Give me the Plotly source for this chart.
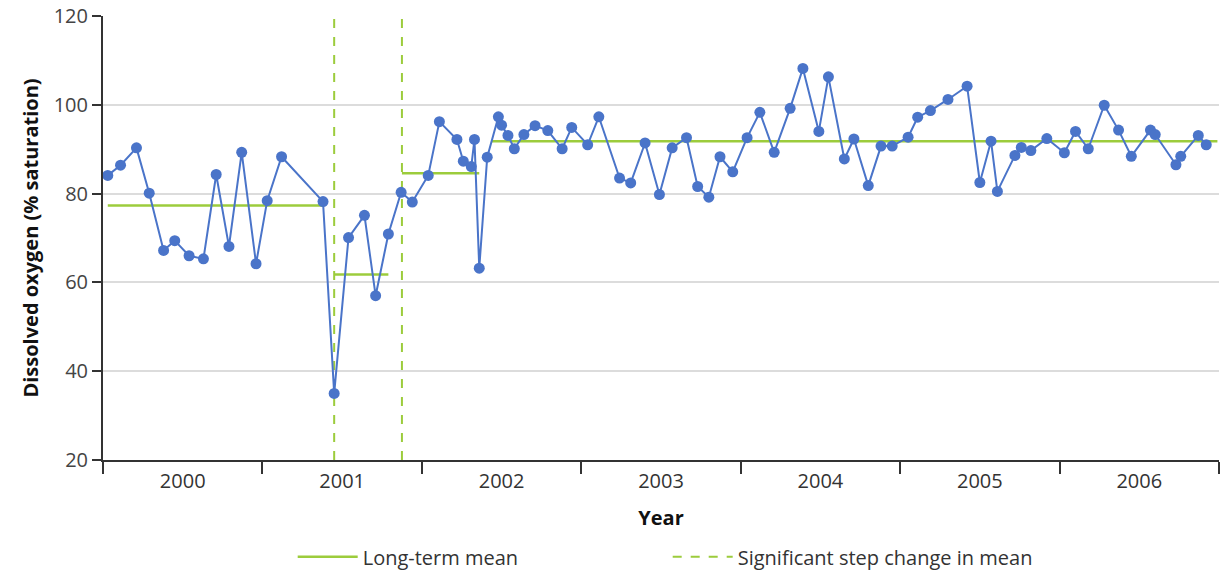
import plotly.graph_objects as go

# Observations: decimal year and dissolved oxygen (% saturation)
obs_year = [
    2000.03, 2000.11, 2000.21, 2000.29, 2000.38, 2000.45, 2000.54, 2000.63, 2000.71, 2000.79,
    2000.87, 2000.96, 2001.03, 2001.12, 2001.38, 2001.45, 2001.54, 2001.64, 2001.71, 2001.79,
    2001.87, 2001.94, 2002.04, 2002.11, 2002.22, 2002.26, 2002.31, 2002.33, 2002.36, 2002.41,
    2002.48, 2002.50, 2002.54, 2002.58, 2002.64, 2002.71, 2002.79, 2002.88, 2002.94, 2003.04,
    2003.11, 2003.24, 2003.31, 2003.40, 2003.49, 2003.57, 2003.66, 2003.73, 2003.80, 2003.87,
    2003.95, 2004.04, 2004.12, 2004.21, 2004.31, 2004.39, 2004.49, 2004.55, 2004.65, 2004.71,
    2004.80, 2004.88, 2004.95, 2005.05, 2005.11, 2005.19, 2005.30, 2005.42, 2005.50, 2005.57,
    2005.61, 2005.72, 2005.76, 2005.82, 2005.92, 2006.03, 2006.10, 2006.18, 2006.28, 2006.37,
    2006.45, 2006.57, 2006.60, 2006.73, 2006.76, 2006.87, 2006.92,
]
oxygen = [
    84.1, 86.4, 90.3, 80.1, 67.2, 69.4, 66.0, 65.3, 84.3, 68.1,
    89.3, 64.2, 78.4, 88.3, 78.2, 35.0, 70.1, 75.1, 57.0, 70.9,
    80.3, 78.1, 84.1, 96.2, 92.2, 87.3, 86.1, 92.2, 63.2, 88.2,
    97.3, 95.4, 93.1, 90.1, 93.3, 95.3, 94.2, 90.1, 94.9, 91.0,
    97.3, 83.5, 82.4, 91.4, 79.8, 90.3, 92.6, 81.6, 79.2, 88.3,
    84.9, 92.6, 98.3, 89.3, 99.2, 108.2, 94.0, 106.3, 87.8, 92.3,
    81.8, 90.7, 90.7, 92.7, 97.2, 98.7, 101.2, 104.2, 82.5, 91.8,
    80.5, 88.6, 90.4, 89.7, 92.4, 89.2, 94.0, 90.1, 99.9, 94.3,
    88.4, 94.3, 93.3, 86.5, 88.4, 93.1, 91.0,
]

# Long-term mean segments: start year, end year, mean value
mean_start = [2000.03, 2001.45, 2001.875, 2002.44]
mean_end = [2001.38, 2001.79, 2002.36, 2006.99]
mean_value = [77.3, 61.8, 84.6, 91.8]

# Significant step changes (years)
step_years = [2001.45, 2001.875]

# Axis
year_labels = ["2000", "2001", "2002", "2003", "2004", "2005", "2006"]
year_start = [2000, 2001, 2002, 2003, 2004, 2005, 2006]
y_range = [20, 120]

BLUE = "#4a74c9"
GREEN = "#9ccc3c"
FONT = "Open Sans"

mx, my = [], []
for s, e, v in zip(mean_start, mean_end, mean_value):
    mx += [s, e, None]
    my += [v, v, None]

sx, sy = [], []
for yv in step_years:
    sx += [yv, yv, None]
    sy += [y_range[0], y_range[1], None]

fig = go.Figure()
fig.add_trace(go.Scatter(
    x=mx, y=my, mode="lines", name="Long-term mean",
    line=dict(color=GREEN, width=2.5), connectgaps=False,
))
fig.add_trace(go.Scatter(
    x=sx, y=sy, mode="lines", name="Significant step change in mean",
    line=dict(color=GREEN, width=2, dash="dash"), connectgaps=False,
))
fig.add_trace(go.Scatter(
    x=obs_year, y=oxygen, mode="lines+markers", showlegend=False,
    line=dict(color=BLUE, width=2),
    marker=dict(color=BLUE, size=11),
))

fig.update_layout(
    width=1221, height=577,
    margin=dict(l=103, r=2, t=16, b=117, autoexpand=False),
    paper_bgcolor="white", plot_bgcolor="white",
    font=dict(family=FONT, color="#333333", size=20),
    legend=dict(orientation="h", x=0.506, xanchor="center", y=-0.262, yanchor="bottom",
                font=dict(size=20, color="#333333"), traceorder="normal",
                entrywidth=300, itemwidth=60),
    xaxis=dict(
        range=[2000, 2007.0],
        tickvals=[y + 0.5 for y in year_start], ticktext=year_labels,
        ticks="", showgrid=False, zeroline=False,
        showline=True, linecolor="#333333", linewidth=2,
        tickfont=dict(size=20, color="#333333"), ticklabelstandoff=2,
        minor=dict(tick0=2000, dtick=1, ticks="outside", ticklen=12, tickwidth=2,
                   tickcolor="#333333", showgrid=False),
        title=dict(text="<b>Year</b>", font=dict(size=20, color="#111111"), standoff=18),
    ),
    yaxis=dict(
        range=y_range, dtick=20, tick0=20,
        showgrid=True, gridcolor="#dcdcdc", gridwidth=1.5, zeroline=False,
        showline=True, linecolor="#333333", linewidth=2,
        ticks="outside", ticklen=9, tickwidth=2, tickcolor="#333333",
        tickfont=dict(size=20, color="#444444"),
        title=dict(text="<b>Dissolved oxygen (% saturation)</b>", font=dict(size=20, color="#111111"), standoff=10),
    ),
)

fig.write_html("out.html")
